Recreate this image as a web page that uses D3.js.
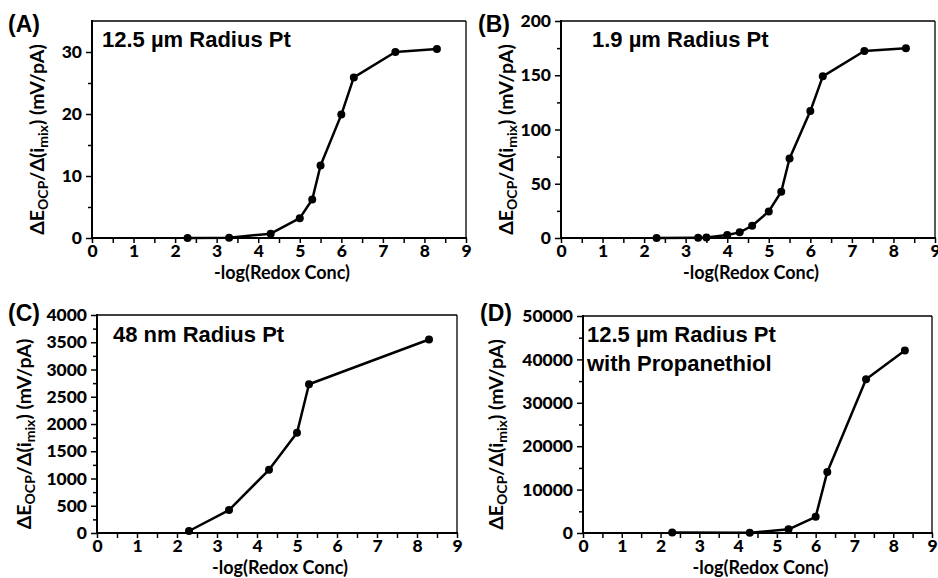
<html>
<head>
  <script src="https://d3js.org/d3.v7.min.js"></script>
  <style>
    body { margin: 0; background: #fff; }
    .tick text { font-family: Lato, "Open Sans", sans-serif; font-weight: 900; font-size: 17.5px; fill: #000; }
    .tick line { stroke: #000; stroke-width: 1.5; }
    .domain { display: none; }
  </style>
</head>
<body>
<div id="chart"></div>
<script>
  // x values: -log(Redox Conc)
  var xA = [2.3, 3.3, 4.3, 5.0, 5.3, 5.5, 6.0, 6.3, 7.3, 8.3];
  var yA = [0, 0.05, 0.7, 3.2, 6.2, 11.7, 19.9, 25.9, 30.0, 30.5];

  var xB = [2.3, 3.3, 3.5, 4.0, 4.3, 4.6, 5.0, 5.3, 5.5, 6.0, 6.3, 7.3, 8.3];
  var yB = [0, 0.3, 0.5, 2.8, 5.2, 11.3, 24.5, 42.6, 73.3, 117, 149, 172.4, 174.8];

  var xC = [2.3, 3.3, 4.3, 5.0, 5.3, 8.3];
  var yC = [37, 421, 1160, 1838, 2730, 3550];

  var xD = [2.3, 4.3, 5.3, 6.0, 6.3, 7.3, 8.3];
  var yD = [100, 50, 840, 3740, 14080, 35440, 42030];

  var xTicks = [0, 1, 2, 3, 4, 5, 6, 7, 8, 9];
  var yTicksA = [0, 10, 20, 30];
  var yTicksB = [0, 50, 100, 150, 200];
  var yTicksC = [0, 500, 1000, 1500, 2000, 2500, 3000, 3500, 4000];
  var yTicksD = [0, 10000, 20000, 30000, 40000, 50000];

  var panels = [
    { tag: "(A)", title: ["12.5 \u00b5m Radius Pt"], xs: xA, ys: yA, yMax: 35, yTicks: yTicksA, yMinor: 5,
      left: 92, right: 466, top: 21, bottom: 238, tagX: 8, tagY: 32, titleX: 102, titleY: 47, labX: 44 },
    { tag: "(B)", title: ["1.9 \u00b5m Radius Pt"], xs: xB, ys: yB, yMax: 200, yTicks: yTicksB, yMinor: 25,
      left: 561, right: 935, top: 21, bottom: 238, tagX: 478, tagY: 32, titleX: 592, titleY: 47, labX: 513 },
    { tag: "(C)", title: ["48 nm Radius Pt"], xs: xC, ys: yC, yMax: 4000, yTicks: yTicksC, yMinor: 250,
      left: 97, right: 457, top: 315, bottom: 533, tagX: 8, tagY: 321, titleX: 113, titleY: 342, labX: 31 },
    { tag: "(D)", title: ["12.5 \u00b5m Radius Pt", "with Propanethiol"], xs: xD, ys: yD, yMax: 50000, yTicks: yTicksD, yMinor: 5000,
      left: 583, right: 932, top: 316, bottom: 533, tagX: 480, tagY: 321, titleX: 587, titleY: 342, labX: 503 }
  ];

  var svg = d3.select("#chart").append("svg")
    .attr("width", 938)
    .attr("height", 578);

  panels.forEach(function (p) {
    var x = d3.scaleLinear().domain([0, 9]).range([p.left, p.right]);
    var y = d3.scaleLinear().domain([0, p.yMax]).range([p.bottom, p.top]);
    var g = svg.append("g");

    // minor ticks
    var xMinor = d3.range(0.5, 9, 1);
    g.append("g")
      .attr("transform", "translate(0," + p.bottom + ")")
      .call(d3.axisBottom(x).tickValues(xMinor).tickSize(5).tickFormat(""));
    var yMinorVals = d3.range(p.yMinor, p.yMax, p.yMinor * 2);
    g.append("g")
      .attr("transform", "translate(" + p.left + ",0)")
      .call(d3.axisLeft(y).tickValues(yMinorVals).tickSize(4).tickFormat(""));

    // major ticks
    g.append("g")
      .attr("transform", "translate(0," + p.bottom + ")")
      .call(d3.axisBottom(x).tickValues(xTicks).tickSize(5).tickPadding(2).tickFormat(d3.format("d")));
    g.append("g")
      .attr("transform", "translate(" + p.left + ",0)")
      .call(d3.axisLeft(y).tickValues(p.yTicks).tickSize(6).tickPadding(4).tickFormat(d3.format("d")));

    // frame
    g.append("line").attr("x1", p.left).attr("x2", p.right).attr("y1", p.top).attr("y2", p.top)
      .attr("stroke", "#000").attr("stroke-width", 1.3);
    g.append("line").attr("x1", p.right).attr("x2", p.right).attr("y1", p.top).attr("y2", p.bottom)
      .attr("stroke", "#000").attr("stroke-width", 1.3);
    g.append("line").attr("x1", p.left).attr("x2", p.left).attr("y1", p.top - 1).attr("y2", p.bottom + 1)
      .attr("stroke", "#000").attr("stroke-width", 2);
    g.append("line").attr("x1", p.left - 1).attr("x2", p.right + 1).attr("y1", p.bottom).attr("y2", p.bottom)
      .attr("stroke", "#000").attr("stroke-width", 2);

    // data
    var pts = p.xs.map(function (v, i) { return [v, p.ys[i]]; });
    var line = d3.line().x(function (d) { return x(d[0]); }).y(function (d) { return y(d[1]); });
    g.append("path").datum(pts)
      .attr("d", line)
      .attr("fill", "none")
      .attr("stroke", "#000")
      .attr("stroke-width", 2.5)
      .attr("stroke-linejoin", "round");
    g.selectAll(".dot").data(pts).enter().append("circle")
      .attr("cx", function (d) { return x(d[0]); })
      .attr("cy", function (d) { return y(d[1]); })
      .attr("r", 4)
      .attr("fill", "#000");

    // x axis title
    g.append("text")
      .attr("x", (p.left + p.right) / 2 + 3)
      .attr("y", p.bottom + 41)
      .attr("text-anchor", "middle")
      .style("font-family", "Lato, sans-serif")
      .style("font-weight", "bold")
      .style("font-size", "18px")
      .text("-log(Redox Conc)");

    // y axis title
    var yl = g.append("text")
      .attr("transform", "translate(" + p.labX + "," + ((p.top + p.bottom) / 2 + 10) + ") rotate(-90)")
      .attr("text-anchor", "middle")
      .style("font-family", "Lato, sans-serif")
      .style("font-weight", "bold")
      .style("font-size", "19.5px");
    yl.append("tspan").text("\u0394E");
    yl.append("tspan").attr("dy", 4).style("font-size", "14px").text("OCP");
    yl.append("tspan").attr("dy", -4).text("/\u0394(i");
    yl.append("tspan").attr("dy", 4).style("font-size", "14px").text("mix");
    yl.append("tspan").attr("dy", -4).text(") (mV/pA)");

    // panel tag
    g.append("text")
      .attr("x", p.tagX).attr("y", p.tagY)
      .style("font-family", "'Liberation Sans', Arial, sans-serif")
      .style("font-weight", "bold")
      .style("font-size", "23px")
      .text(p.tag);

    // panel title
    p.title.forEach(function (t, i) {
      g.append("text")
        .attr("x", p.titleX).attr("y", p.titleY + i * 29)
        .style("font-family", "'Liberation Sans', Arial, sans-serif")
        .style("font-weight", "bold")
        .style("font-size", "22px")
        .text(t);
    });
  });
</script>
</body>
</html>
